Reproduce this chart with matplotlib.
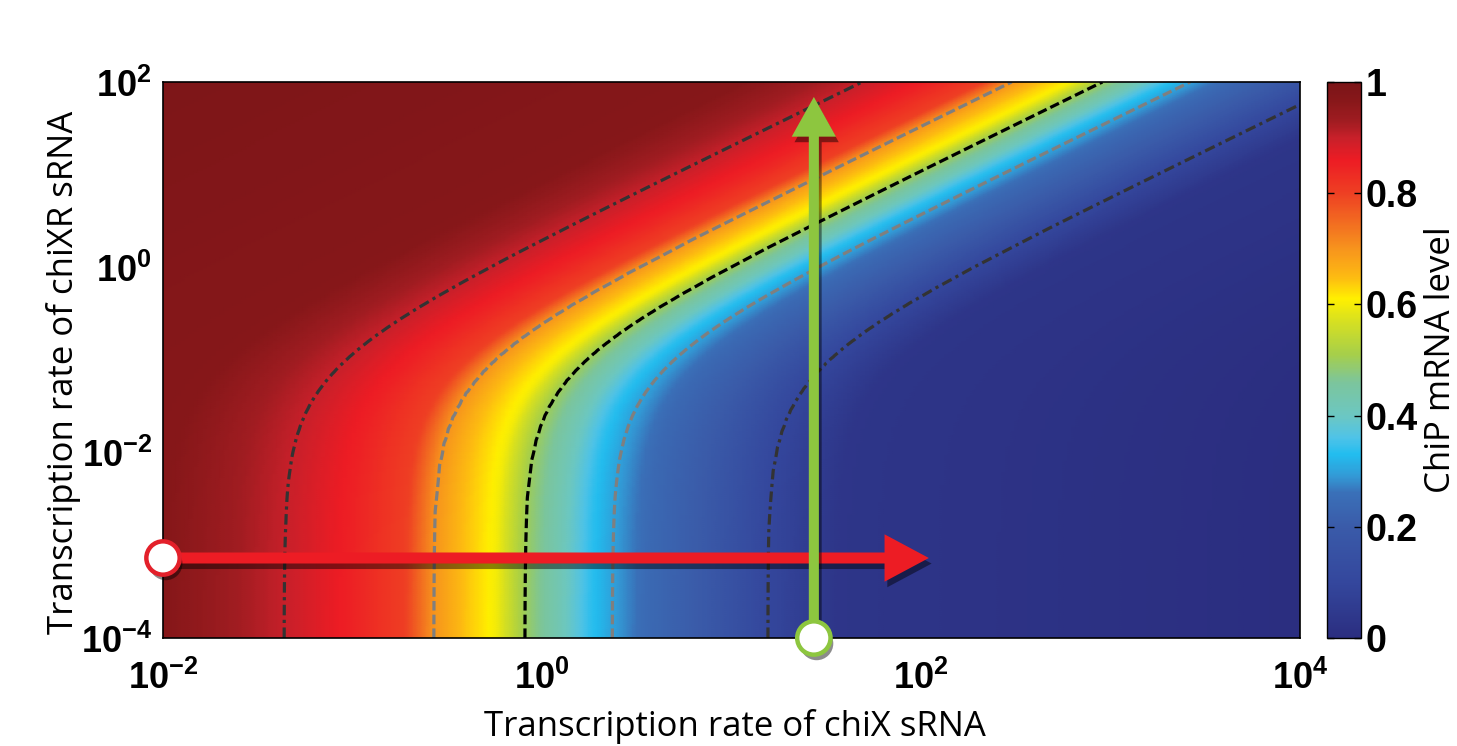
import numpy as np
import matplotlib
matplotlib.use('Agg')
import matplotlib.pyplot as plt
import matplotlib.patheffects as pe
from matplotlib.colors import LinearSegmentedColormap

# ---- data ----
# ChiP mRNA level along the bottom edge (chiXR -> 0) vs log10(chiX transcription rate)
profile_log_chix = [-6.0, -2.0, -1.80, -1.36, -1.01, -0.72, -0.575, -0.43, -0.245, -0.093,
                    0.095, 0.253, 0.37, 0.57, 0.83, 1.19, 1.57, 4.0]
profile_level = [1.00, 0.97, 0.95, 0.90, 0.85, 0.80, 0.70, 0.65, 0.60, 0.50,
                 0.42, 0.34, 0.30, 0.24, 0.20, 0.10, 0.03, 0.00]
# chiXR rate where the contours bend from vertical to diagonal
chixr_crossover = 10 ** -1.05

contour_levels = [0.1, 0.3, 0.5, 0.7, 0.9]

# arrows (start, end) in data units
red_arrow_x = [1e-2, 110]
red_arrow_y = 7.3e-4
green_arrow_x = 27.2
green_arrow_y = [1e-4, 69]

xtick_vals = [1e-2, 1e0, 1e2, 1e4]
xtick_labels = ['$10^{-2}$', '$10^{0}$', '$10^{2}$', '$10^{4}$']
ytick_vals = [1e-4, 1e-2, 1e0, 1e2]
ytick_labels = ['$10^{-4}$', '$10^{-2}$', '$10^{0}$', '$10^{2}$']
cbar_ticks = [0, 0.2, 0.4, 0.6, 0.8, 1.0]
cbar_labels = ['0', '0.2', '0.4', '0.6', '0.8', '1']

# printed-jet colours taken from the colour bar
cmap_pos = [0.0, 0.1, 0.2, 0.26, 0.29, 0.33, 0.36, 0.40, 0.46, 0.51, 0.57, 0.61,
            0.65, 0.70, 0.75, 0.80, 0.86, 0.90, 0.93, 0.97, 1.0]
cmap_cols = ['#2B2E80', '#34479D', '#3A5BA9', '#3A70B8', '#3399D5', '#22BDEF', '#4FC3E8',
             '#6CC7C2', '#7CC59C', '#A6CF4A', '#D7E021', '#FFF000', '#FDBA12', '#F7941D',
             '#F26A21', '#EE4023', '#ED1C24', '#C8202A', '#A01C21', '#861719', '#7B1518']

plt.rcParams['mathtext.fontset'] = 'custom'
plt.rcParams['mathtext.rm'] = 'Liberation Sans:bold'
plt.rcParams['mathtext.it'] = 'Liberation Sans:bold'
plt.rcParams['mathtext.bf'] = 'Liberation Sans:bold'
plt.rcParams['mathtext.default'] = 'rm'

cmap = LinearSegmentedColormap.from_list('printjet', list(zip(cmap_pos, cmap_cols)), N=512)

W, H = 1457, 746
fig = plt.figure(figsize=(W / 100, H / 100), dpi=100)
ax = fig.add_axes([163 / W, 1 - 638 / H, 1137 / W, 556 / H])
cax = fig.add_axes([1327 / W, 1 - 638 / H, 34 / W, 556 / H])

# field: level depends on effective chiX = chiX / (1 + chiXR / crossover)
x = np.logspace(-2, 4, 260)
y = np.logspace(-4, 2, 260)
X, Y = np.meshgrid(x, y)
eff = np.log10(X / (1 + Y / chixr_crossover))
Z = np.interp(eff, profile_log_chix, profile_level)

mesh = ax.pcolormesh(X, Y, Z, cmap=cmap, vmin=0, vmax=1, shading='gouraud')
ax.set_xscale('log')
ax.set_yscale('log')
ax.set_xlim(1e-2, 1e4)
ax.set_ylim(1e-4, 1e2)

dashdot = (0, (3.3, 1.4, 1.0, 1.4))
dashed = (0, (3.0, 1.3))
ax.contour(X, Y, Z, levels=contour_levels,
           colors=['#333333', '#7f7f7f', 'black', '#7f7f7f', '#333333'],
           linestyles=[dashdot, dashed, dashed, dashed, dashdot],
           linewidths=2.3)

ax.set_xticks(xtick_vals)
ax.set_xticklabels(xtick_labels)
ax.set_yticks(ytick_vals)
ax.set_yticklabels(ytick_labels)
ax.minorticks_off()
ax.tick_params(length=0, labelsize=26)
ax.tick_params(axis='x', pad=16)
ax.tick_params(axis='y', pad=8)
for s in ax.spines.values():
    s.set_linewidth(1.2)

ax.set_xlabel('Transcription rate of chiX sRNA', fontsize=25, family='Open Sans')
ax.xaxis.set_label_coords(0.503, -0.128)
ax.set_ylabel('Transcription rate of chiXR sRNA', fontsize=25, family='Open Sans')
ax.yaxis.set_label_coords(-0.072, 0.478)

# arrows with a drop shadow
red = '#ED1C24'
green = '#8DC63F'
shadow = [pe.withSimplePatchShadow(offset=(2, -4), shadow_rgbFace='k', alpha=0.45)]
ax.annotate('', xy=(red_arrow_x[1], red_arrow_y), xytext=(red_arrow_x[0], red_arrow_y),
            arrowprops=dict(arrowstyle='simple,head_length=1.45,head_width=1.55,tail_width=0.36',
                            mutation_scale=22, fc=red, ec='none', shrinkA=0, shrinkB=0,
                            path_effects=shadow),
            annotation_clip=False, zorder=5)
ax.annotate('', xy=(green_arrow_x, green_arrow_y[1]), xytext=(green_arrow_x, green_arrow_y[0]),
            arrowprops=dict(arrowstyle='simple,head_length=1.3,head_width=1.45,tail_width=0.33',
                            mutation_scale=22, fc=green, ec='none', shrinkA=0, shrinkB=0,
                            path_effects=shadow),
            annotation_clip=False, zorder=6)
ax.plot(red_arrow_x[0], red_arrow_y, 'o', ms=24, mfc='white', mec='#E3202A', mew=3.2,
        clip_on=False, zorder=7, path_effects=shadow)
ax.plot(green_arrow_x, green_arrow_y[0], 'o', ms=24, mfc='white', mec=green, mew=3.2,
        clip_on=False, zorder=7, path_effects=shadow)

cb = fig.colorbar(mesh, cax=cax, ticks=cbar_ticks)
cb.set_ticklabels(cbar_labels)
cax.tick_params(direction='in', length=5, width=1, left=True, right=True, pad=3)
for t in cax.get_yticklabels():
    t.set_fontsize(27)
    t.set_fontweight('bold')
    t.set_family('Liberation Sans')
cb.outline.set_linewidth(1)
cax.set_ylabel('ChiP mRNA level', fontsize=25, family='Open Sans')
cax.yaxis.set_label_coords(2.85, 0.5)

fig.savefig('out.png', dpi=100)
